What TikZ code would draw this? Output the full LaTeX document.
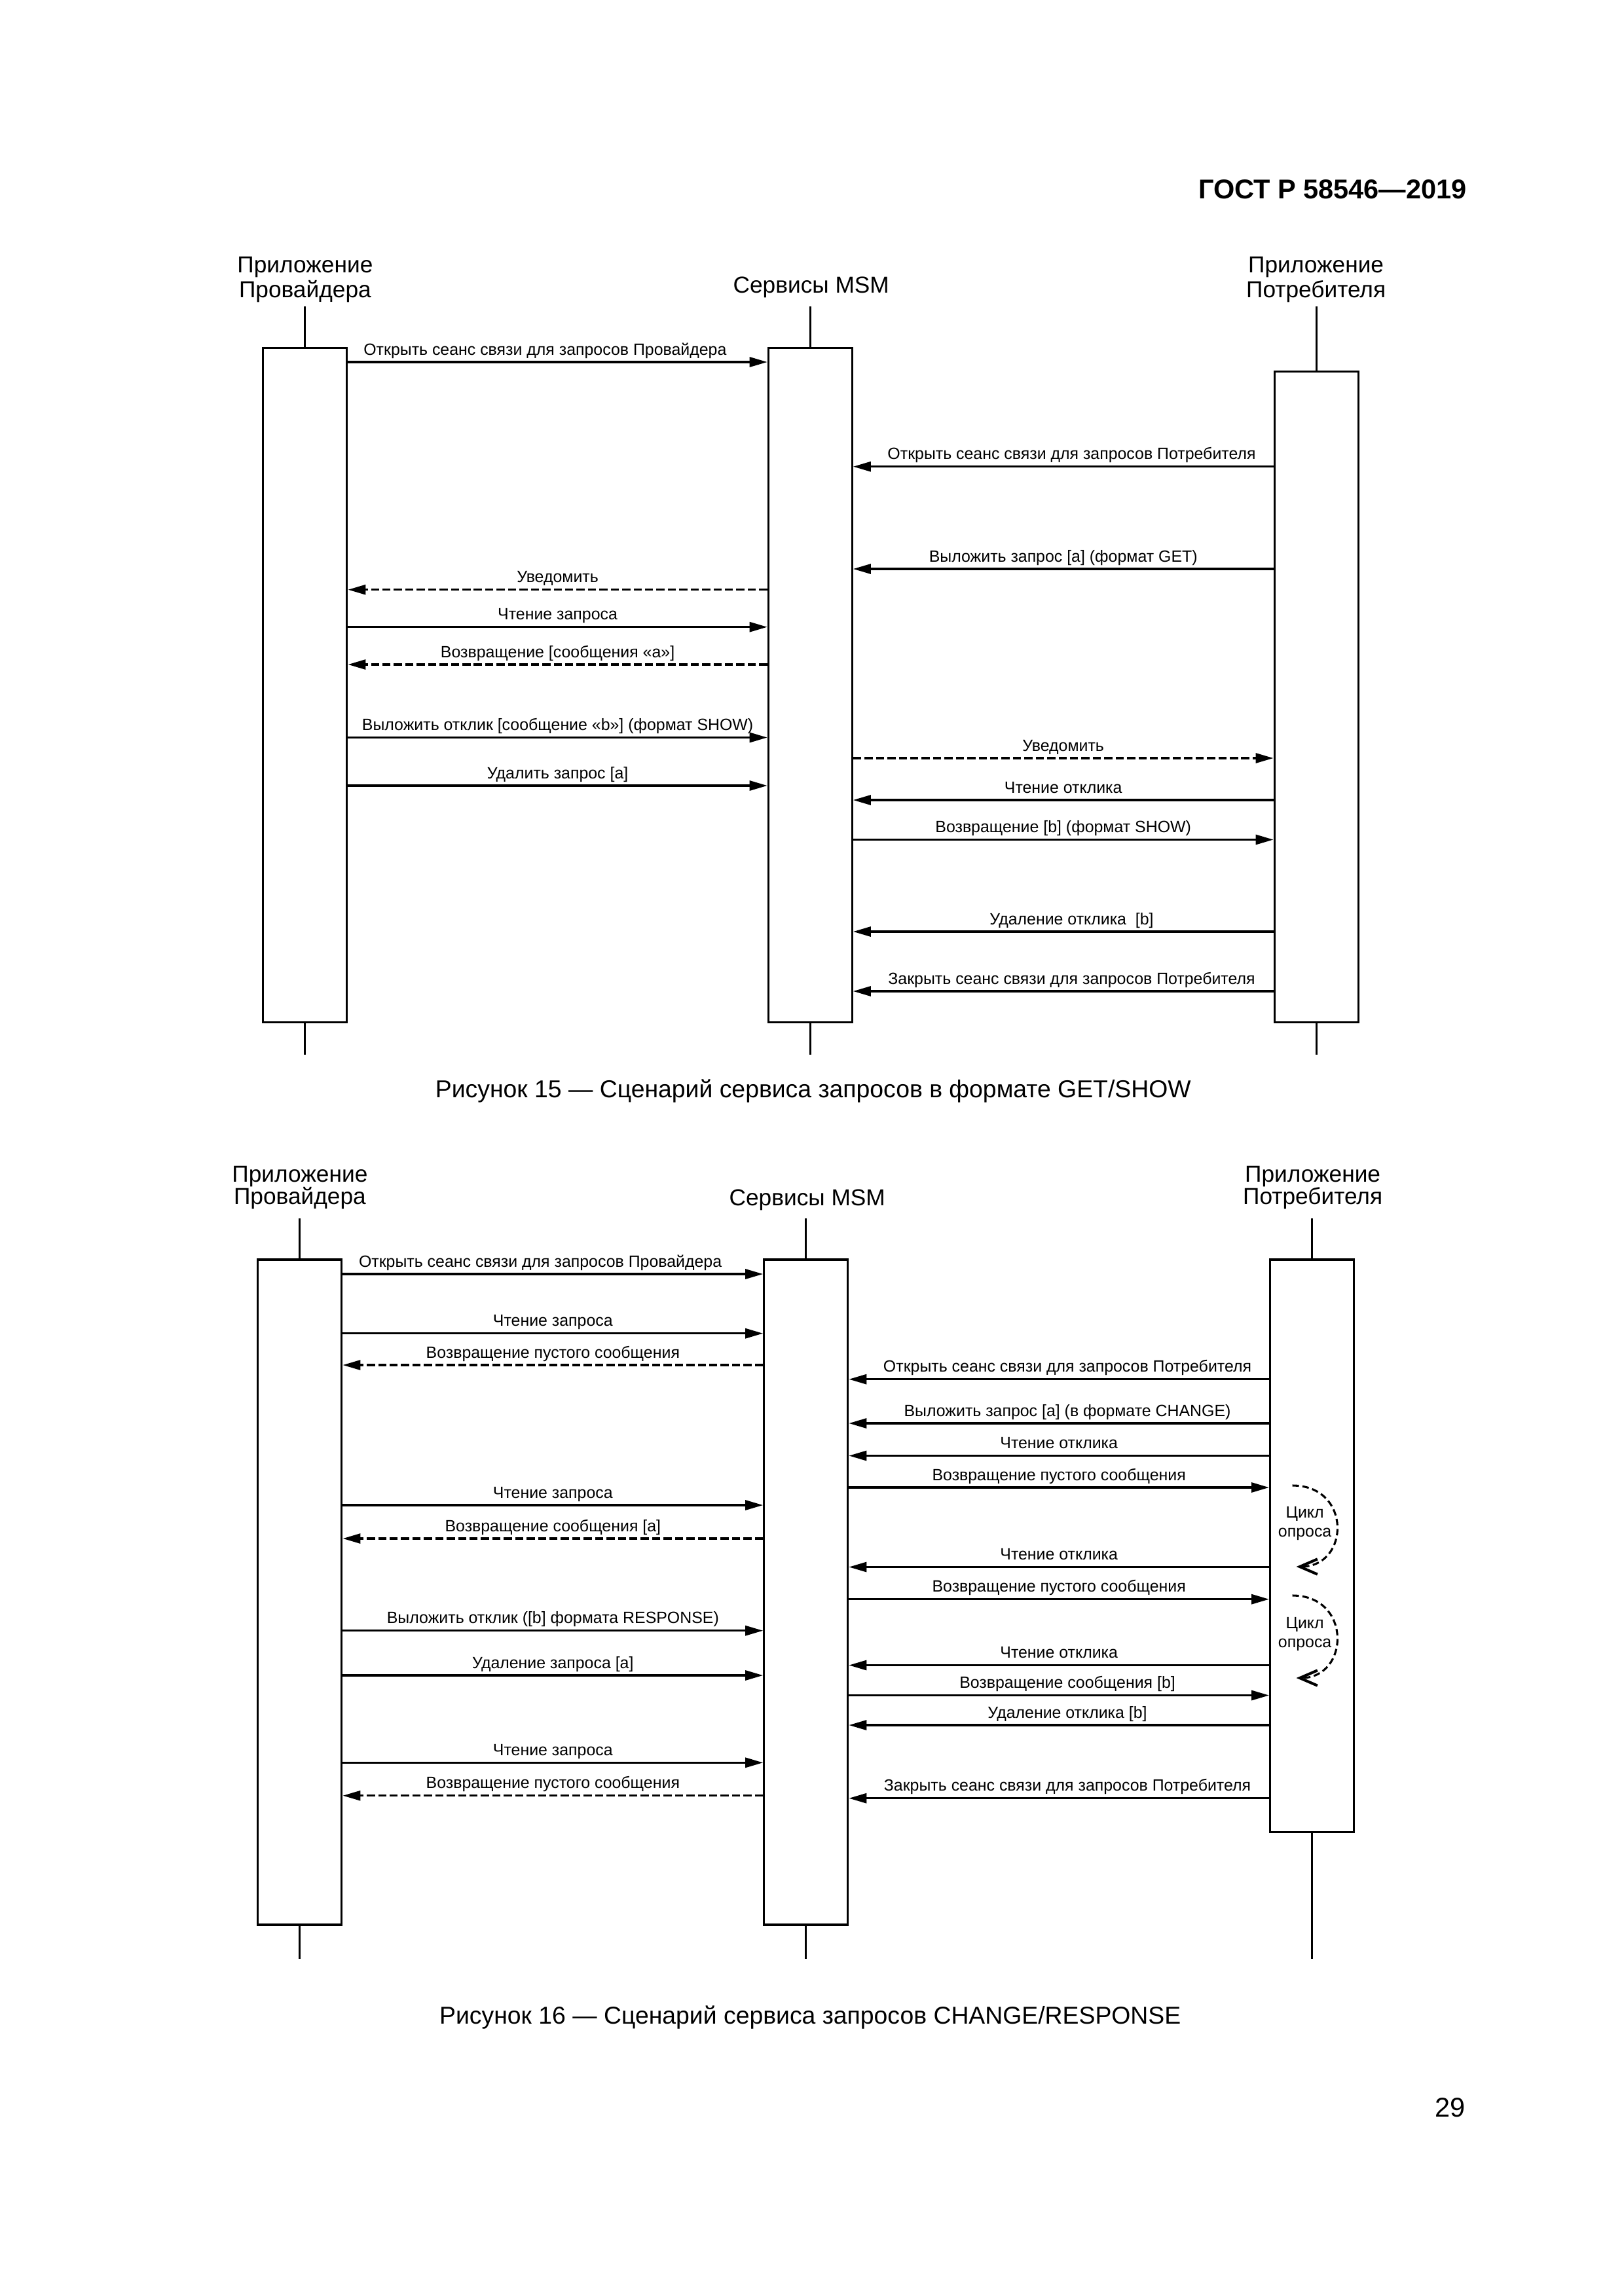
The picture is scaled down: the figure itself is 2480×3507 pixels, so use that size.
\documentclass[tikz,border=0pt]{standalone}
\usepackage{fontspec}
\setmainfont{Liberation Sans}
\usetikzlibrary{arrows.meta}
\begin{document}
\begin{tikzpicture}[x=0.084677mm,y=-0.084688mm,
    box/.style={draw,line width=0.75pt,minimum width=10.84mm,inner sep=0pt},
    life/.style={line width=0.75pt},
    msg/.style={line width=0.75pt,-{Triangle[length=6.5pt,width=3.6pt]}},
    ret/.style={msg,dash pattern=on 3pt off 1.2pt},
    lbl/.style={midway,anchor=base,yshift=2.6pt,inner sep=0pt,font=\fontsize{6}{7}\selectfont},
    head/.style={anchor=north,inner sep=0pt,align=center},
    poll/.style={line width=0.75pt,dash pattern=on 2.4pt off 1.3pt,-{Straight Barb[length=6.5pt,width=5.6pt,line width=1pt]}},
    cyc/.style={inner sep=0pt,align=center,font=\fontsize{6}{6.9}\selectfont}]
\useasboundingbox (0,0) rectangle (2480,3507);
\node[anchor=base east,inner sep=0pt,font=\bfseries\fontsize{10}{12}\selectfont] (gost) at (2241,303) {ГОСТ Р 58546—2019};
\node[anchor=base east,inner sep=0pt,font=\fontsize{10}{12}\selectfont] (page) at (2239,3233) {29};
% figure 15
\node[head,font=\fontsize{8.5}{7.2}\selectfont] (h_15_0) at (466,391.7) {Приложение\\Провайдера};
\node[head,font=\fontsize{8.5}{7.2}\selectfont] (h_15_1) at (1239,422) {Сервисы MSM};
\node[head,font=\fontsize{8.5}{7.2}\selectfont] (h_15_2) at (2010,391.7) {Приложение\\Потребителя};
\node[box,minimum height=87.17mm] (l_15_0) at (466,1046.4) {};
\node[box,minimum height=87.17mm] (l_15_1) at (1237.5,1046.4) {};
\node[box,minimum height=84.12mm] (l_15_2) at (2010.5,1064.4) {};
\draw[life] (l_15_0.north) -- (l_15_0.north |- 0,468);
\draw[life] (l_15_0.south) -- (l_15_0.south |- 0,1611);
\draw[life] (l_15_1.north) -- (l_15_1.north |- 0,468);
\draw[life] (l_15_1.south) -- (l_15_1.south |- 0,1611);
\draw[life] (l_15_2.north) -- (l_15_2.north |- 0,468);
\draw[life] (l_15_2.south) -- (l_15_2.south |- 0,1611);
\draw[msg] (l_15_0.east |- 0,553) -- (l_15_1.west |- 0,553) node[lbl,pos=0.47] {Открыть сеанс связи для запросов Провайдера};
\draw[msg] (l_15_2.west |- 0,712.7) -- (l_15_1.east |- 0,712.7) node[lbl,pos=0.48] {Открыть сеанс связи для запросов Потребителя};
\draw[msg] (l_15_2.west |- 0,869) -- (l_15_1.east |- 0,869) node[lbl] {Выложить запрос [a] (формат GET)};
\draw[ret] (l_15_1.west |- 0,900.7) -- (l_15_0.east |- 0,900.7) node[lbl] {Уведомить};
\draw[msg] (l_15_0.east |- 0,957.7) -- (l_15_1.west |- 0,957.7) node[lbl] {Чтение запроса};
\draw[ret] (l_15_1.west |- 0,1015) -- (l_15_0.east |- 0,1015) node[lbl] {Возвращение [сообщения «a»]};
\draw[msg] (l_15_0.east |- 0,1126.5) -- (l_15_1.west |- 0,1126.5) node[lbl] {Выложить отклик [сообщение «b»] (формат SHOW)};
\draw[ret] (l_15_1.east |- 0,1158) -- (l_15_2.west |- 0,1158) node[lbl] {Уведомить};
\draw[msg] (l_15_0.east |- 0,1200) -- (l_15_1.west |- 0,1200) node[lbl] {Удалить запрос [a]};
\draw[msg] (l_15_2.west |- 0,1222) -- (l_15_1.east |- 0,1222) node[lbl] {Чтение отклика};
\draw[msg] (l_15_1.east |- 0,1282.5) -- (l_15_2.west |- 0,1282.5) node[lbl] {Возвращение [b] (формат SHOW)};
\draw[msg] (l_15_2.west |- 0,1423) -- (l_15_1.east |- 0,1423) node[lbl,pos=0.48] {Удаление отклика\ \ [b]};
\draw[msg] (l_15_2.west |- 0,1514) -- (l_15_1.east |- 0,1514) node[lbl,pos=0.48] {Закрыть сеанс связи для запросов Потребителя};
\node[anchor=base,inner sep=0pt,font=\fontsize{9}{11}\selectfont] (cap_15) at (1242,1676) {Рисунок 15 — Сценарий сервиса запросов в формате GET/SHOW};
% figure 16
\node[head,font=\fontsize{8.5}{8.4}\selectfont] (h_16_0) at (458,1780) {Приложение\\Провайдера};
\node[head,font=\fontsize{8.5}{8.4}\selectfont] (h_16_1) at (1233,1816) {Сервисы MSM};
\node[head,font=\fontsize{8.5}{8.4}\selectfont] (h_16_2) at (2005,1780) {Приложение\\Потребителя};
\node[box,minimum height=86.04mm] (l_16_0) at (458,2432) {};
\node[box,minimum height=86.04mm] (l_16_1) at (1231,2432) {};
\node[box,minimum height=74.02mm] (l_16_2) at (2004,2361) {};
\draw[life] (l_16_0.north) -- (l_16_0.north |- 0,1860.5);
\draw[life] (l_16_0.south) -- (l_16_0.south |- 0,2992);
\draw[life] (l_16_1.north) -- (l_16_1.north |- 0,1860.5);
\draw[life] (l_16_1.south) -- (l_16_1.south |- 0,2992);
\draw[life] (l_16_2.north) -- (l_16_2.north |- 0,1860.5);
\draw[life] (l_16_2.south) -- (l_16_2.south |- 0,2992);
\draw[msg] (l_16_0.east |- 0,1946) -- (l_16_1.west |- 0,1946) node[lbl,pos=0.47] {Открыть сеанс связи для запросов Провайдера};
\draw[msg] (l_16_0.east |- 0,2036.7) -- (l_16_1.west |- 0,2036.7) node[lbl] {Чтение запроса};
\draw[ret] (l_16_1.west |- 0,2085) -- (l_16_0.east |- 0,2085) node[lbl] {Возвращение пустого сообщения};
\draw[msg] (l_16_2.west |- 0,2106.7) -- (l_16_1.east |- 0,2106.7) node[lbl,pos=0.48] {Открыть сеанс связи для запросов Потребителя};
\draw[msg] (l_16_2.west |- 0,2174) -- (l_16_1.east |- 0,2174) node[lbl,pos=0.48] {Выложить запрос [a] (в формате CHANGE)};
\draw[msg] (l_16_2.west |- 0,2223.5) -- (l_16_1.east |- 0,2223.5) node[lbl] {Чтение отклика};
\draw[msg] (l_16_1.east |- 0,2272) -- (l_16_2.west |- 0,2272) node[lbl] {Возвращение пустого сообщения};
\draw[msg] (l_16_0.east |- 0,2299) -- (l_16_1.west |- 0,2299) node[lbl] {Чтение запроса};
\draw[ret] (l_16_1.west |- 0,2350) -- (l_16_0.east |- 0,2350) node[lbl] {Возвращение сообщения [a]};
\draw[msg] (l_16_2.west |- 0,2393.5) -- (l_16_1.east |- 0,2393.5) node[lbl] {Чтение отклика};
\draw[msg] (l_16_1.east |- 0,2442.7) -- (l_16_2.west |- 0,2442.7) node[lbl] {Возвращение пустого сообщения};
\draw[msg] (l_16_0.east |- 0,2490.7) -- (l_16_1.west |- 0,2490.7) node[lbl] {Выложить отклик ([b] формата RESPONSE)};
\draw[msg] (l_16_2.west |- 0,2543.5) -- (l_16_1.east |- 0,2543.5) node[lbl] {Чтение отклика};
\draw[msg] (l_16_0.east |- 0,2559) -- (l_16_1.west |- 0,2559) node[lbl] {Удаление запроса [a]};
\draw[msg] (l_16_1.east |- 0,2589.5) -- (l_16_2.west |- 0,2589.5) node[lbl,pos=0.52] {Возвращение сообщения [b]};
\draw[msg] (l_16_2.west |- 0,2635) -- (l_16_1.east |- 0,2635) node[lbl,pos=0.48] {Удаление отклика [b]};
\draw[msg] (l_16_0.east |- 0,2692.3) -- (l_16_1.west |- 0,2692.3) node[lbl] {Чтение запроса};
\draw[ret] (l_16_1.west |- 0,2742.7) -- (l_16_0.east |- 0,2742.7) node[lbl] {Возвращение пустого сообщения};
\draw[msg] (l_16_2.west |- 0,2746.7) -- (l_16_1.east |- 0,2746.7) node[lbl,pos=0.48] {Закрыть сеанс связи для запросов Потребителя};
% polling loops
\node[cyc] (c_16_0) at (1993,2327) {Цикл\\опроса};
\coordinate (k_16_0s) at (1974,2269);
\coordinate (k_16_0e) at (1980,2393);
\draw[poll] (k_16_0s) .. controls +(91,0) and +(82,0) .. (k_16_0e);
\node[cyc] (c_16_1) at (1993,2496) {Цикл\\опроса};
\coordinate (k_16_1s) at (1974,2437);
\coordinate (k_16_1e) at (1980,2563);
\draw[poll] (k_16_1s) .. controls +(91,0) and +(82,0) .. (k_16_1e);
\node[anchor=base,inner sep=0pt,font=\fontsize{9}{11}\selectfont] (cap_16) at (1237.5,3091) {Рисунок 16 — Сценарий сервиса запросов CHANGE/RESPONSE};
\end{tikzpicture}
\end{document}
